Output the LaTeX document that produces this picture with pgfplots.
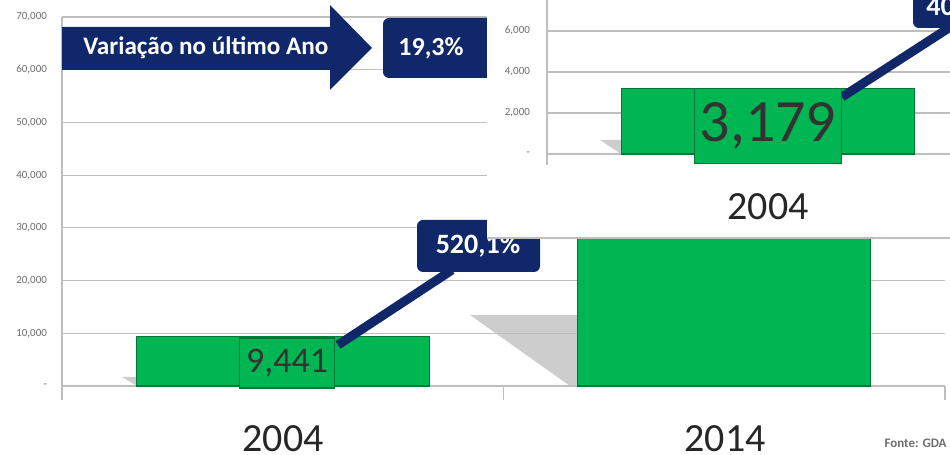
\documentclass[border=0pt]{standalone}
\usepackage{pgfplots}
\pgfplotsset{compat=1.18}
\usepackage{fontspec}
\setmainfont{Carlito}

\definecolor{navy}{RGB}{16,40,105}
\definecolor{barg}{RGB}{0,182,82}
\definecolor{bargd}{RGB}{0,120,55}
\definecolor{gridc}{RGB}{190,190,190}
\definecolor{tickc}{RGB}{110,110,110}
\definecolor{shad}{RGB}{205,205,205}

% pixel grid of the reference, origin top left
\tikzset{px/.style={x=0.5pt, y=-0.5pt, shift={(0pt,227.5pt)}}}

\begin{document}
\begin{tikzpicture}
\path[use as bounding box] (0pt,0pt) rectangle (475pt,227.5pt);

% shadows behind the bars
\begin{scope}[px]
\fill[shad] (470,315) -- (578,315) -- (578,386) -- (570,386) -- cycle;
\fill[shad] (122,377) -- (137,377) -- (137,386) -- cycle;
\end{scope}

% main chart
\begin{axis}[
  at={(31pt,34.5pt)}, anchor=south west, scale only axis,
  width=441.5pt, height=184.5pt,
  xmin=-0.5, xmax=1.5, ymin=0, ymax=70000,
  axis line style={draw=none},
  xtick=\empty,
  scaled y ticks=false,
  ytick={0,10000,20000,30000,40000,50000,60000,70000},
  yticklabels={{-},{10,000},{20,000},{30,000},{40,000},{50,000},{60,000},{70,000}},
  yticklabel style={font=\fontsize{5.5}{6}\selectfont, text=tickc, xshift=-4pt},
  major tick length=0pt,
  ymajorgrids, grid style={gridc, line width=0.6pt},
  clip=false,
]
\draw[gridc, line width=0.6pt] (axis cs:-0.5,-2650) -- (axis cs:-0.5,70000);
\draw[gridc, line width=0.6pt] (axis cs:0.5,0) -- (axis cs:0.5,-2650);
\draw[gridc, line width=0.6pt] (axis cs:1.5,0) -- (axis cs:1.5,-2650);
\addplot[ybar, bar width=146.5pt, bar shift=0pt, fill=barg, draw=bargd, line width=0.6pt]
  coordinates {(0,9441) (1,58543)};
\end{axis}

\begin{scope}[px]
% category labels
\node[font=\fontsize{20}{24}\selectfont, text=black!85, inner sep=0pt] at (283,439) {2004};
\node[font=\fontsize{20}{24}\selectfont, text=black!85, inner sep=0pt] at (725,439) {2014};

% value label and growth callout
\draw[navy, line width=4.5pt] (338,345) -- (452,270);
\node[fill=barg, draw=bargd, line width=0.6pt, minimum width=47.5pt, minimum height=25pt,
      inner sep=0pt, font=\fontsize{18}{20}\selectfont, text=black!80] at (287,363) {9,441};
\fill[navy, rounded corners=3pt] (417,220) rectangle (540,272);
\node[font=\fontsize{14}{16}\selectfont\bfseries, text=white] at (478,246) {520,1\%};

% arrow and yearly variation
\fill[navy] (62,27) -- (330,27) -- (330,5) -- (372,48) -- (330,90) -- (330,70) -- (62,70) -- cycle;
\node[anchor=west, inner sep=0pt, font=\fontsize{12.6}{14}\selectfont\bfseries, text=white] at (83,48) {Variação no último Ano};
\fill[navy, rounded corners=3pt] (383,18) rectangle (510,78);
\node[anchor=west, inner sep=0pt, font=\fontsize{13}{15}\selectfont\bfseries, text=white] at (398,48) {19,3\%};

% source
\node[anchor=east, inner sep=0pt, font=\fontsize{6.5}{7}\selectfont\bfseries, text=tickc] at (947,443) {Fonte: GDA};

% inset panel
\fill[white] (487,0) rectangle (950,238);
\draw[gridc, line width=0.6pt] (487,238) -- (950,238);
\end{scope}

\begin{scope}
\clip (243.5pt,108.5pt) rectangle (475pt,227.5pt);
\begin{scope}[px]
\fill[shad] (600,140) -- (621,140) -- (621,154) -- cycle;
\end{scope}
\begin{axis}[
  at={(273.5pt,150.5pt)}, anchor=south west, scale only axis,
  width=201.5pt, height=77pt,
  xmin=-0.5, xmax=0.4127, ymin=0, ymax=7512,
  axis line style={draw=none},
  xtick=\empty,
  scaled y ticks=false,
  ytick={0,2000,4000,6000},
  yticklabels={{-},{2,000},{4,000},{6,000}},
  yticklabel style={font=\fontsize{5.5}{6}\selectfont, text=tickc, xshift=-5pt},
  major tick length=0pt,
  ymajorgrids, grid style={gridc, line width=0.6pt},
  clip=false,
]
\draw[gridc, line width=0.6pt] (axis cs:-0.5,-540) -- (axis cs:-0.5,7512);
\addplot[ybar, bar width=146.5pt, bar shift=0pt, fill=barg, draw=bargd, line width=0.6pt]
  coordinates {(0,3179)};
\end{axis}
\begin{scope}[px]
\draw[navy, line width=4.5pt] (842,97) -- (955,24);
\node[fill=barg, draw=bargd, line width=0.6pt, minimum width=73.5pt, minimum height=37.5pt,
      inner sep=0pt, font=\fontsize{30}{32}\selectfont, text=black!80] at (768,126) {3,179};
\fill[navy, rounded corners=3pt] (913,-10) rectangle (1000,28);
\node[anchor=west, inner sep=0pt, font=\fontsize{14}{16}\selectfont\bfseries, text=white] at (926,6) {40};
\node[font=\fontsize{20}{24}\selectfont, text=black!85] at (768,207) {2004};
\end{scope}
\end{scope}
\end{tikzpicture}
\end{document}
